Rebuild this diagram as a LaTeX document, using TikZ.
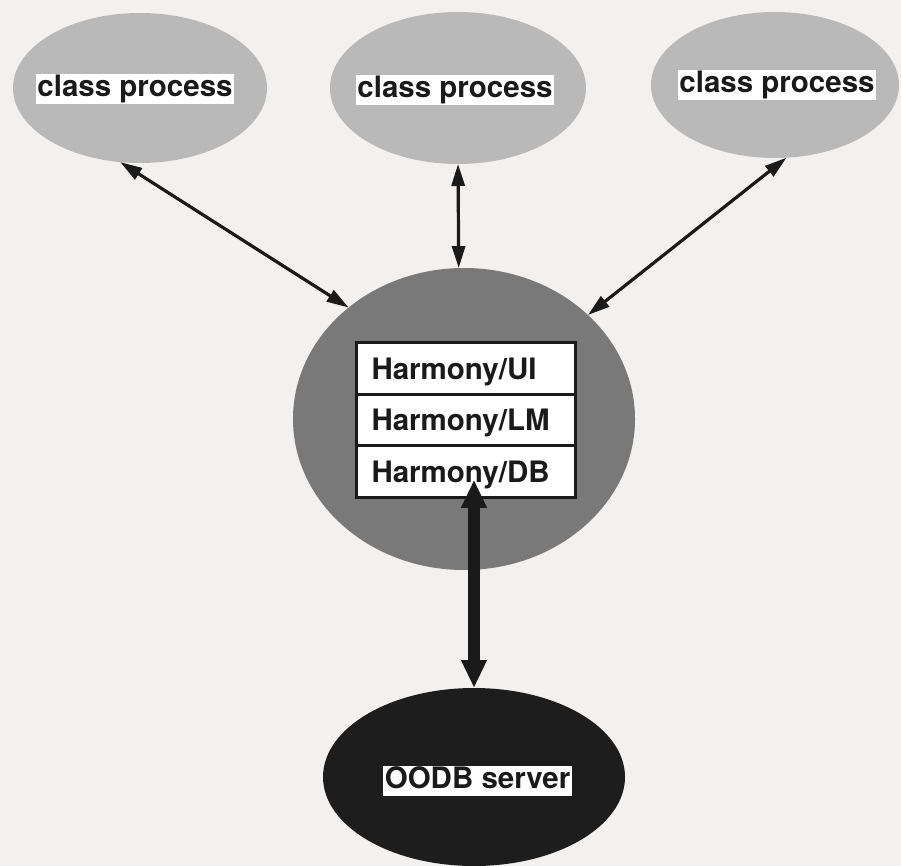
\documentclass[tikz,border=0pt]{standalone}
\usepackage{fontspec}
\setmainfont{TeX Gyre Heros}
\usetikzlibrary{shapes.geometric,arrows.meta}

\definecolor{paper}{HTML}{F2F1EF}
\definecolor{procfill}{HTML}{BAB9B9}
\definecolor{corefill}{HTML}{7A7979}
\definecolor{serverfill}{HTML}{1E1D1D}
\definecolor{ink}{HTML}{1A1A1A}

\tikzset{
  blob/.style={ellipse, inner sep=0pt, outer sep=0pt, draw=none},
  labelfont/.style={font=\fontsize{29.5}{31}\selectfont\bfseries, text=ink},
  tag/.style={labelfont, fill=white, inner sep=1.5pt, text height=21pt, text depth=6pt, anchor=base},
  layer/.style={labelfont, draw=ink, line width=3pt, fill=white,
    minimum width=219pt, minimum height=51.5pt, inner sep=0pt,
    text width=188pt, align=left, text height=21pt, text depth=0pt},
  link/.style={draw=ink, line width=3.2pt,
    {Triangle[length=22pt,width=13pt]}-{Triangle[length=22pt,width=13pt]}},
  dblink/.style={draw=ink, line width=12pt,
    {Triangle[length=28pt,width=24pt]}-{Triangle[length=28pt,width=24pt]}},
}

\begin{document}
\begin{tikzpicture}[x=1pt, y=-1pt]
  % page
  \fill[paper] (0,0) rectangle (901,866);
  \useasboundingbox (0,0) rectangle (901,866);

  % client processes
  \node[blob, fill=procfill, minimum width=254pt, minimum height=150pt] (cpA) at (140,88) {};
  \node[blob, fill=procfill, minimum width=256pt, minimum height=152pt] (cpB) at (458,88) {};
  \node[blob, fill=procfill, minimum width=248pt, minimum height=146pt] (cpC) at (775,85) {};
  \node[tag] (tA) at (135,97) {class process};
  \node[tag] (tB) at (455,98) {class process};
  \node[tag] (tC) at (777,93) {class process};

  % Harmony process with its layers
  \node[blob, fill=corefill, minimum width=342pt, minimum height=302pt] (core) at (464,419) {};
  \node[layer] (ui) at (465.5,368.5) {Harmony/UI};
  \node[layer] (lm) at (465.5,420) {Harmony/LM};
  \node[layer] (db) at (465.5,471.5) {Harmony/DB};

  % database server
  \node[blob, fill=serverfill, minimum width=302pt, minimum height=178pt] (server) at (474,777) {};
  \node[tag] (tS) at (477.5,788) {OODB server};

  % connections
  \draw[link] (cpA.-105) -- (core.136.5);
  \draw[link] (cpB.south) -- (core.92);
  \draw[link] (cpC.-81) -- (core.40);
  \draw[dblink, shorten <=-19pt] (server.north |- db.south) -- (server.north);
\end{tikzpicture}
\end{document}
